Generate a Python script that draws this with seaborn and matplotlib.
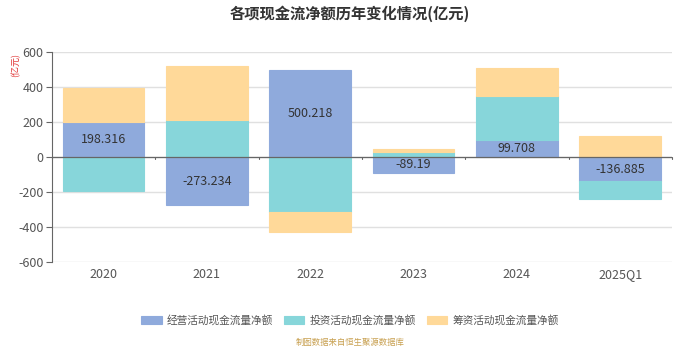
import numpy as np
import pandas as pd
import matplotlib
matplotlib.use("Agg")
import matplotlib.pyplot as plt
import seaborn as sns

categories = ["2020", "2021", "2022", "2023", "2024", "2025Q1"]
operating = [198.316, -273.234, 500.218, -89.19, 99.708, -136.885]
investing = [-194.0, 211.0, -314.0, 29.0, 249.0, -105.0]
financing = [198.0, 309.0, -113.0, 18.0, 158.0, 120.0]
series_names = ["经营活动现金流量净额", "投资活动现金流量净额", "筹资活动现金流量净额"]
colors = ["#8FAADC", "#87D6DA", "#FFD999"]
y_ticks = [-600, -400, -200, 0, 200, 400, 600]

sns.set_theme(style="white")
plt.rcParams["font.family"] = ["Noto Sans CJK SC", "DejaVu Sans"]

fig = plt.figure(figsize=(7, 3.5), dpi=100)
ax = fig.add_axes([0.074, 0.251, 0.886, 0.600])

series = [operating, investing, financing]
pos_base = np.zeros(len(categories))
neg_base = np.zeros(len(categories))
for name, vals, col in zip(series_names, series, colors):
    v = np.array(vals, dtype=float)
    bottom = np.where(v >= 0, pos_base, neg_base)
    df = pd.DataFrame({"cat": categories, "val": v})
    sns.barplot(data=df, x="cat", y="val", order=categories, color=col,
                saturation=1, width=0.79, bottom=bottom, ax=ax,
                edgecolor=col, linewidth=0.8, label=name, errorbar=None)
    pos_base = pos_base + np.where(v >= 0, v, 0)
    neg_base = neg_base + np.where(v < 0, v, 0)

if ax.get_legend() is not None:
    ax.get_legend().remove()

for i, v in enumerate(operating):
    ax.text(i, v / 2, f"{v:g}", ha="center", va="center", fontsize=9, color="#333333")

ax.set_ylim(-600, 600)
ax.set_xlim(-0.5, len(categories) - 0.5)
ax.set_yticks(y_ticks)
ax.set_yticklabels([str(t) for t in y_ticks], fontsize=9, color="#555555")
ax.tick_params(axis="x", length=0, pad=4, labelsize=9, labelcolor="#555555")
ax.tick_params(axis="y", length=4, width=0.8, color="#666666", left=True, pad=2)
ax.set_xlabel("")
ax.set_ylabel("")
ax.grid(axis="y", color="#E0E0E0", linewidth=1)
ax.set_axisbelow(True)
for s in ["top", "right", "bottom"]:
    ax.spines[s].set_visible(False)
ax.spines["left"].set_color("#666666")
ax.spines["left"].set_linewidth(0.8)
ax.axhline(0, color="#666666", linewidth=0.9, zorder=3)
for b in np.arange(-0.5, len(categories), 1.0):
    ax.plot([b, b], [0, -12], color="#666666", linewidth=0.8, zorder=3, clip_on=False)

fig.text(0.5, 0.962, "各项现金流净额历年变化情况(亿元)", ha="center", va="center",
         fontsize=11, fontweight="bold", color="#333333")
fig.text(0.022, 0.815, "(亿元)", ha="center", va="center", rotation=90,
         fontsize=6.5, color="#E03030")

handles, labels = ax.get_legend_handles_labels()
leg = fig.legend(handles, labels, loc="center", bbox_to_anchor=(0.5, 0.085), ncol=3,
                 frameon=False, fontsize=7.7, handlelength=1.9, handleheight=0.9,
                 columnspacing=1.0, handletextpad=0.5, labelcolor="#555555")
fig.text(0.5, 0.022, "制图数据来自恒生聚源数据库", ha="center", va="center",
         fontsize=6, color="#C8A050")

fig.savefig("out.png", dpi=100)
